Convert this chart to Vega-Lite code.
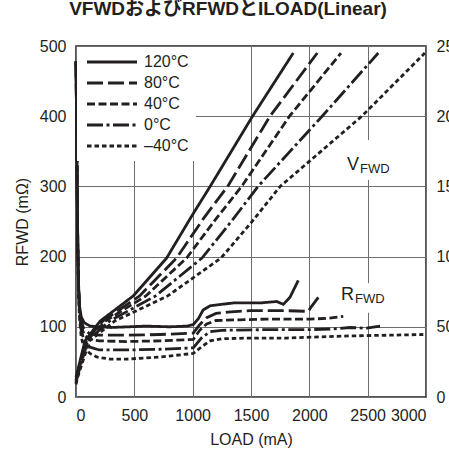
{
  "$schema": "https://vega.github.io/schema/vega-lite/v6.json",
  "width": 350,
  "height": 351,
  "autosize": {"type": "none"},
  "padding": {"left": 76, "top": 46, "right": 23, "bottom": 63},
  "background": "white",
  "title": {
    "text": "VFWDおよびRFWDとILOAD(Linear)",
    "fontSize": 19,
    "fontWeight": "bold",
    "font": "Liberation Sans, Noto Sans CJK JP",
    "color": "#231f20",
    "anchor": "middle",
    "frame": "group",
    "dx": -23,
    "offset": 19
  },
  "datasets": {
    "rfwd": [
      {"s": "120°C", "I": 0, "R": 478}, {"s": "120°C", "I": 5, "R": 400}, {"s": "120°C", "I": 10, "R": 300}, {"s": "120°C", "I": 15, "R": 220}, {"s": "120°C", "I": 22, "R": 160}, {"s": "120°C", "I": 30, "R": 130}, {"s": "120°C", "I": 45, "R": 114}, {"s": "120°C", "I": 70, "R": 106}, {"s": "120°C", "I": 120, "R": 101}, {"s": "120°C", "I": 200, "R": 100}, {"s": "120°C", "I": 300, "R": 99}, {"s": "120°C", "I": 450, "R": 100}, {"s": "120°C", "I": 600, "R": 101}, {"s": "120°C", "I": 800, "R": 100}, {"s": "120°C", "I": 950, "R": 101}, {"s": "120°C", "I": 1005, "R": 103}, {"s": "120°C", "I": 1050, "R": 112}, {"s": "120°C", "I": 1090, "R": 124}, {"s": "120°C", "I": 1150, "R": 130}, {"s": "120°C", "I": 1350, "R": 134}, {"s": "120°C", "I": 1580, "R": 134}, {"s": "120°C", "I": 1720, "R": 136}, {"s": "120°C", "I": 1777, "R": 132}, {"s": "120°C", "I": 1834, "R": 142}, {"s": "120°C", "I": 1905, "R": 166},
      {"s": "80°C", "I": 0, "R": 478}, {"s": "80°C", "I": 5, "R": 400}, {"s": "80°C", "I": 10, "R": 300}, {"s": "80°C", "I": 15, "R": 220}, {"s": "80°C", "I": 22, "R": 160}, {"s": "80°C", "I": 30, "R": 128}, {"s": "80°C", "I": 45, "R": 108}, {"s": "80°C", "I": 70, "R": 96}, {"s": "80°C", "I": 120, "R": 90}, {"s": "80°C", "I": 200, "R": 88}, {"s": "80°C", "I": 434, "R": 88}, {"s": "80°C", "I": 720, "R": 89}, {"s": "80°C", "I": 1005, "R": 91}, {"s": "80°C", "I": 1060, "R": 103}, {"s": "80°C", "I": 1120, "R": 113}, {"s": "80°C", "I": 1200, "R": 119}, {"s": "80°C", "I": 1300, "R": 121}, {"s": "80°C", "I": 1491, "R": 123}, {"s": "80°C", "I": 1800, "R": 123}, {"s": "80°C", "I": 1991, "R": 122}, {"s": "80°C", "I": 2010, "R": 127}, {"s": "80°C", "I": 2077, "R": 142},
      {"s": "40°C", "I": 0, "R": 478}, {"s": "40°C", "I": 5, "R": 400}, {"s": "40°C", "I": 10, "R": 300}, {"s": "40°C", "I": 15, "R": 220}, {"s": "40°C", "I": 22, "R": 158}, {"s": "40°C", "I": 30, "R": 124}, {"s": "40°C", "I": 45, "R": 102}, {"s": "40°C", "I": 70, "R": 88}, {"s": "40°C", "I": 120, "R": 82}, {"s": "40°C", "I": 200, "R": 80}, {"s": "40°C", "I": 434, "R": 79}, {"s": "40°C", "I": 720, "R": 80}, {"s": "40°C", "I": 1005, "R": 82}, {"s": "40°C", "I": 1060, "R": 95}, {"s": "40°C", "I": 1120, "R": 104}, {"s": "40°C", "I": 1200, "R": 109}, {"s": "40°C", "I": 1400, "R": 110}, {"s": "40°C", "I": 1634, "R": 111}, {"s": "40°C", "I": 2006, "R": 111}, {"s": "40°C", "I": 2149, "R": 112}, {"s": "40°C", "I": 2291, "R": 115},
      {"s": "0°C", "I": 0, "R": 478}, {"s": "0°C", "I": 5, "R": 400}, {"s": "0°C", "I": 10, "R": 300}, {"s": "0°C", "I": 15, "R": 218}, {"s": "0°C", "I": 22, "R": 155}, {"s": "0°C", "I": 30, "R": 118}, {"s": "0°C", "I": 45, "R": 95}, {"s": "0°C", "I": 70, "R": 80}, {"s": "0°C", "I": 120, "R": 71}, {"s": "0°C", "I": 200, "R": 67}, {"s": "0°C", "I": 434, "R": 67}, {"s": "0°C", "I": 720, "R": 68}, {"s": "0°C", "I": 1005, "R": 70}, {"s": "0°C", "I": 1080, "R": 85}, {"s": "0°C", "I": 1150, "R": 93}, {"s": "0°C", "I": 1250, "R": 95}, {"s": "0°C", "I": 1634, "R": 96}, {"s": "0°C", "I": 2006, "R": 96}, {"s": "0°C", "I": 2200, "R": 97}, {"s": "0°C", "I": 2349, "R": 99}, {"s": "0°C", "I": 2491, "R": 98}, {"s": "0°C", "I": 2606, "R": 101},
      {"s": "–40°C", "I": 0, "R": 478}, {"s": "–40°C", "I": 5, "R": 400}, {"s": "–40°C", "I": 10, "R": 300}, {"s": "–40°C", "I": 15, "R": 216}, {"s": "–40°C", "I": 22, "R": 150}, {"s": "–40°C", "I": 30, "R": 112}, {"s": "–40°C", "I": 45, "R": 85}, {"s": "–40°C", "I": 70, "R": 70}, {"s": "–40°C", "I": 120, "R": 62}, {"s": "–40°C", "I": 177, "R": 57}, {"s": "–40°C", "I": 291, "R": 54}, {"s": "–40°C", "I": 434, "R": 54}, {"s": "–40°C", "I": 720, "R": 57}, {"s": "–40°C", "I": 1005, "R": 62}, {"s": "–40°C", "I": 1080, "R": 72}, {"s": "–40°C", "I": 1150, "R": 80}, {"s": "–40°C", "I": 1250, "R": 83}, {"s": "–40°C", "I": 1500, "R": 84}, {"s": "–40°C", "I": 1806, "R": 84}, {"s": "–40°C", "I": 2349, "R": 87}, {"s": "–40°C", "I": 2977, "R": 89}
    ],
    "vfwd": [
      {"s": "120°C", "I": 0, "V": 14}, {"s": "120°C", "I": 9, "V": 17}, {"s": "120°C", "I": 77, "V": 40}, {"s": "120°C", "I": 206, "V": 54}, {"s": "120°C", "I": 491, "V": 72}, {"s": "120°C", "I": 777, "V": 99}, {"s": "120°C", "I": 1000, "V": 130}, {"s": "120°C", "I": 1150, "V": 150}, {"s": "120°C", "I": 1506, "V": 199}, {"s": "120°C", "I": 1862, "V": 245},
      {"s": "80°C", "I": 0, "V": 12}, {"s": "80°C", "I": 10, "V": 16}, {"s": "80°C", "I": 85, "V": 40}, {"s": "80°C", "I": 229, "V": 54}, {"s": "80°C", "I": 545, "V": 72}, {"s": "80°C", "I": 862, "V": 99}, {"s": "80°C", "I": 1100, "V": 128}, {"s": "80°C", "I": 1300, "V": 150}, {"s": "80°C", "I": 1663, "V": 200}, {"s": "80°C", "I": 2068, "V": 245},
      {"s": "40°C", "I": 0, "V": 11}, {"s": "40°C", "I": 10, "V": 15}, {"s": "40°C", "I": 90, "V": 40}, {"s": "40°C", "I": 251, "V": 54}, {"s": "40°C", "I": 599, "V": 72}, {"s": "40°C", "I": 948, "V": 99}, {"s": "40°C", "I": 1210, "V": 128}, {"s": "40°C", "I": 1420, "V": 150}, {"s": "40°C", "I": 1830, "V": 200}, {"s": "40°C", "I": 2271, "V": 245},
      {"s": "0°C", "I": 0, "V": 10}, {"s": "0°C", "I": 10, "V": 14}, {"s": "0°C", "I": 100, "V": 40}, {"s": "0°C", "I": 286, "V": 54}, {"s": "0°C", "I": 682, "V": 72}, {"s": "0°C", "I": 1080, "V": 99}, {"s": "0°C", "I": 1340, "V": 126}, {"s": "0°C", "I": 1560, "V": 150}, {"s": "0°C", "I": 2110, "V": 200}, {"s": "0°C", "I": 2591, "V": 245},
      {"s": "–40°C", "I": 0, "V": 9}, {"s": "–40°C", "I": 10, "V": 13}, {"s": "–40°C", "I": 115, "V": 40}, {"s": "–40°C", "I": 330, "V": 54}, {"s": "–40°C", "I": 786, "V": 72}, {"s": "–40°C", "I": 1243, "V": 99}, {"s": "–40°C", "I": 1500, "V": 124}, {"s": "–40°C", "I": 1750, "V": 150}, {"s": "–40°C", "I": 2450, "V": 200}, {"s": "–40°C", "I": 2990, "V": 245}
    ],
    "labels": [
      {"main": "V", "sub": "FWD", "I": 2426, "R": 330},
      {"main": "R", "sub": "FWD", "I": 2383, "R": 145}
    ],
    "boxes": [
      {"I": 2300, "I2": 2650, "R": 309, "R2": 366},
      {"I": 2300, "I2": 2650, "R": 120, "R2": 162}
    ]
  },
  "config": {
    "view": {"stroke": "#231f20", "strokeWidth": 1.5},
    "font": "Liberation Sans",
    "axis": {
      "ticks": false,
      "domain": false,
      "labelFontSize": 16,
      "labelFont": "Liberation Sans",
      "titleFont": "Liberation Sans",
      "labelColor": "#231f20",
      "titleColor": "#231f20",
      "titleFontSize": 16,
      "titleFontWeight": "normal",
      "gridColor": "#6d6e71",
      "gridWidth": 1,
      "gridOpacity": 1,
      "labelPadding": 10
    },
    "legend": {
      "orient": "top-left",
      "offset": 1,
      "fillColor": "white",
      "padding": 7,
      "symbolType": "M-1,0H9",
      "symbolSize": 100,
      "symbolStrokeWidth": 3,
      "symbolStrokeColor": "#231f20",
      "labelOffset": 44,
      "labelFontSize": 16,
      "labelFont": "Liberation Sans",
      "labelColor": "#231f20",
      "rowPadding": 5,
      "title": null
    }
  },
  "layer": [
    {
      "layer": [
        {
          "data": {"name": "boxes"},
          "mark": {"type": "rect", "fill": "white", "stroke": null},
          "encoding": {
            "x": {"field": "I", "type": "quantitative", "scale": {"domain": [0, 3000]}},
            "x2": {"field": "I2"},
            "y": {"field": "R", "type": "quantitative", "scale": {"domain": [0, 500]}},
            "y2": {"field": "R2"}
          }
        },
        {
          "data": {"name": "rfwd"},
          "mark": {"type": "line", "strokeWidth": 2.8, "color": "#231f20", "strokeCap": "butt"},
          "encoding": {
            "x": {"field": "I", "type": "quantitative", "scale": {"domain": [0, 3000]},
              "axis": {"values": [0, 500, 1000, 1500, 2000, 2500, 3000], "format": "d", "title": "LOAD (mA)", "grid": true, "titlePadding": 8}},
            "y": {"field": "R", "type": "quantitative", "scale": {"domain": [0, 500]},
              "axis": {"orient": "left", "values": [0, 100, 200, 300, 400, 500], "title": "RFWD (mΩ)", "grid": true, "titlePadding": 9}},
            "strokeDash": {"field": "s", "type": "nominal",
              "scale": {"domain": ["120°C", "80°C", "40°C", "0°C", "–40°C"], "range": [[1, 0], [16, 5], [8, 3.5], [16, 3.5, 3, 3.5], [4.5, 3]]}},
            "detail": {"field": "s"}
          }
        },
        {
          "data": {"name": "labels"},
          "mark": {"type": "text", "align": "right", "baseline": "middle", "fontSize": 18, "color": "#231f20"},
          "encoding": {
            "x": {"field": "I", "type": "quantitative"},
            "y": {"field": "R", "type": "quantitative"},
            "text": {"field": "main"}
          }
        },
        {
          "data": {"name": "labels"},
          "mark": {"type": "text", "align": "left", "baseline": "middle", "fontSize": 13, "dy": 4, "dx": 1, "color": "#231f20"},
          "encoding": {
            "x": {"field": "I", "type": "quantitative"},
            "y": {"field": "R", "type": "quantitative"},
            "text": {"field": "sub"}
          }
        }
      ]
    },
    {
      "data": {"name": "vfwd"},
      "mark": {"type": "line", "strokeWidth": 2.8, "color": "#231f20", "strokeCap": "butt"},
      "encoding": {
        "x": {"field": "I", "type": "quantitative"},
        "y": {"field": "V", "type": "quantitative", "scale": {"domain": [0, 250]},
          "axis": {"orient": "right", "values": [0, 50, 100, 150, 200, 250], "title": null, "grid": false}},
        "strokeDash": {"field": "s", "type": "nominal",
          "scale": {"domain": ["120°C", "80°C", "40°C", "0°C", "–40°C"], "range": [[1, 0], [16, 5], [8, 3.5], [16, 3.5, 3, 3.5], [4.5, 3]]}},
        "detail": {"field": "s"}
      }
    }
  ],
  "resolve": {"scale": {"y": "independent"}}
}
